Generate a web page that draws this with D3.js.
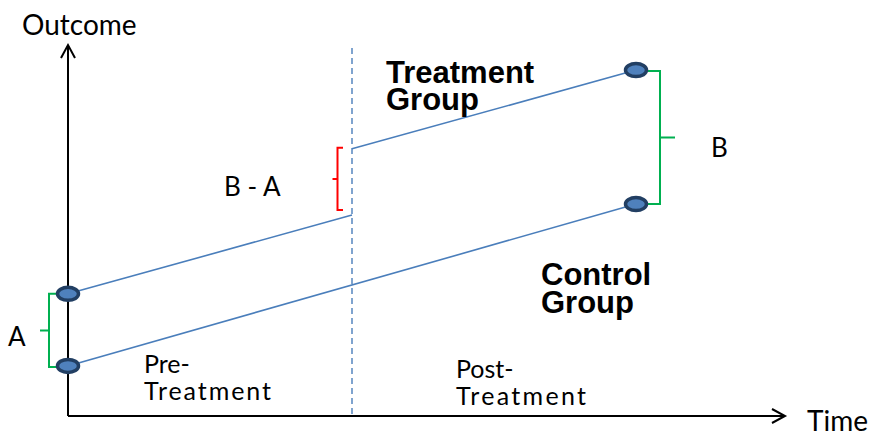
<!DOCTYPE html>
<html>
<head>
<meta charset="utf-8">
<script src="https://cdn.jsdelivr.net/npm/d3@7"></script>
<style>
  html, body { margin: 0; padding: 0; background: #ffffff; }
  svg { display: block; }
</style>
</head>
<body>
<svg id="chart" width="870" height="432"></svg>
<script>
// ---- data ----
const periods = ["Pre-Treatment", "Treatment", "Post-Treatment"];
const periodTimes = [0, 0.5, 1];
const treatmentBefore = [
  { t: 0, v: 33.2 },
  { t: 0.5, v: 54.6 }
];
const treatmentAfter = [
  { t: 0.5, v: 72.6 },
  { t: 1, v: 94.0 }
];
const control = [
  { t: 0, v: 13.6 },
  { t: 1, v: 57.6 }
];
const groupLabels = [["Treatment", "Group"], ["Control", "Group"]];
const bracketLabels = ["A", "B", "B - A"];
const axisTitles = ["Outcome", "Time"];

// ---- scales ----
const svg = d3.select("#chart");
const x = d3.scaleLinear().domain([0, 1]).range([68, 636]);
const y = d3.scaleLinear().domain([0, 100]).range([416, 48]);

const blue = "#4a7ebb";
const green = "#00b050";
const red = "#ff0000";
const calibri = "Lato, 'Open Sans', sans-serif";
const arial = "'Liberation Sans', Arial, sans-serif";

// ---- dashed treatment time line ----
svg.append("line")
  .attr("x1", x(0.5)).attr("x2", x(0.5))
  .attr("y1", 48).attr("y2", y(0))
  .attr("stroke", blue).attr("stroke-width", 1.4)
  .attr("stroke-dasharray", "6,4");

// ---- axes ----
const axisG = svg.append("g").attr("stroke", "#000").attr("stroke-width", 2).attr("fill", "none");
axisG.append("line").attr("x1", x(0)).attr("x2", x(0)).attr("y1", y(0)).attr("y2", 45);
axisG.append("line").attr("x1", x(0)).attr("x2", 785).attr("y1", y(0)).attr("y2", y(0));
axisG.append("path").attr("d", `M${x(0) - 7},58 L${x(0)},45 L${x(0) + 7},58`);
axisG.append("path").attr("d", `M772,${y(0) - 7} L785,${y(0)} L772,${y(0) + 7}`);

// ---- lines ----
const line = d3.line().x(d => x(d.t)).y(d => y(d.v));
[treatmentBefore, treatmentAfter, control].forEach(seg => {
  svg.append("path").datum(seg)
    .attr("d", line)
    .attr("fill", "none")
    .attr("stroke", blue)
    .attr("stroke-width", 1.6);
});

// ---- brackets ----
function bracket(xv, y1, y2, xEnd, tickDir, color) {
  const ym = (y1 + y2) / 2;
  const d = `M${xEnd},${y1} L${xv},${y1} L${xv},${y2} L${xEnd},${y2} M${xv},${ym} L${xv + tickDir},${ym}`;
  svg.append("path").attr("d", d).attr("fill", "none")
    .attr("stroke", color).attr("stroke-width", 2);
}
// A
bracket(x(0) - 19, y(treatmentBefore[0].v), y(control[0].v) + 1, x(0) - 11, -9, green);
// B
bracket(x(1) + 24, y(treatmentAfter[1].v) + 1, y(control[1].v), x(1) + 12, 15, green);
// B - A
bracket(x(0.5) - 14.5, y(treatmentAfter[0].v) - 1, y(treatmentBefore[1].v) - 5, x(0.5) - 9, -5, red);

// ---- points ----
const points = [treatmentBefore[0], control[0], treatmentAfter[1], control[1]];
svg.selectAll("ellipse.pt").data(points).enter().append("ellipse")
  .attr("class", "pt")
  .attr("cx", d => x(d.t)).attr("cy", d => y(d.v))
  .attr("rx", 10.5).attr("ry", 6.5)
  .attr("fill", "#4f81bd")
  .attr("stroke", "#223f63")
  .attr("stroke-width", 3.5);

// ---- texts ----
function txt(str, tx, ty, size, family, weight, len) {
  const t = svg.append("text").attr("x", tx).attr("y", ty)
    .attr("font-family", family).attr("font-size", size)
    .attr("font-weight", weight || "normal").attr("fill", "#000").text(str);
  if (len) t.attr("textLength", len).attr("lengthAdjust", "spacing");
  return t;
}
txt(axisTitles[0], 22, 35, 28, calibri);
txt(axisTitles[1], 807, 431, 28, calibri);
txt(bracketLabels[0], 8, 346, 26, calibri);
txt(bracketLabels[1], 711, 157, 26, calibri);
txt(bracketLabels[2], 224, 196, 26, calibri);

txt(periods[0].split("-")[0] + "-", 144, 373, 25, calibri);
txt(periods[0].split("-")[1], 144, 400, 25, calibri, null, 127);
txt(periods[2].split("-")[0] + "-", 456, 378, 25, calibri);
txt(periods[2].split("-")[1], 456, 405, 25, calibri, null, 130);

txt(groupLabels[0][0], 386, 83, 31, arial, "bold");
txt(groupLabels[0][1], 386, 110, 31, arial, "bold");
txt(groupLabels[1][0], 541, 285, 31, arial, "bold");
txt(groupLabels[1][1], 541, 313, 31, arial, "bold");
</script>
</body>
</html>
